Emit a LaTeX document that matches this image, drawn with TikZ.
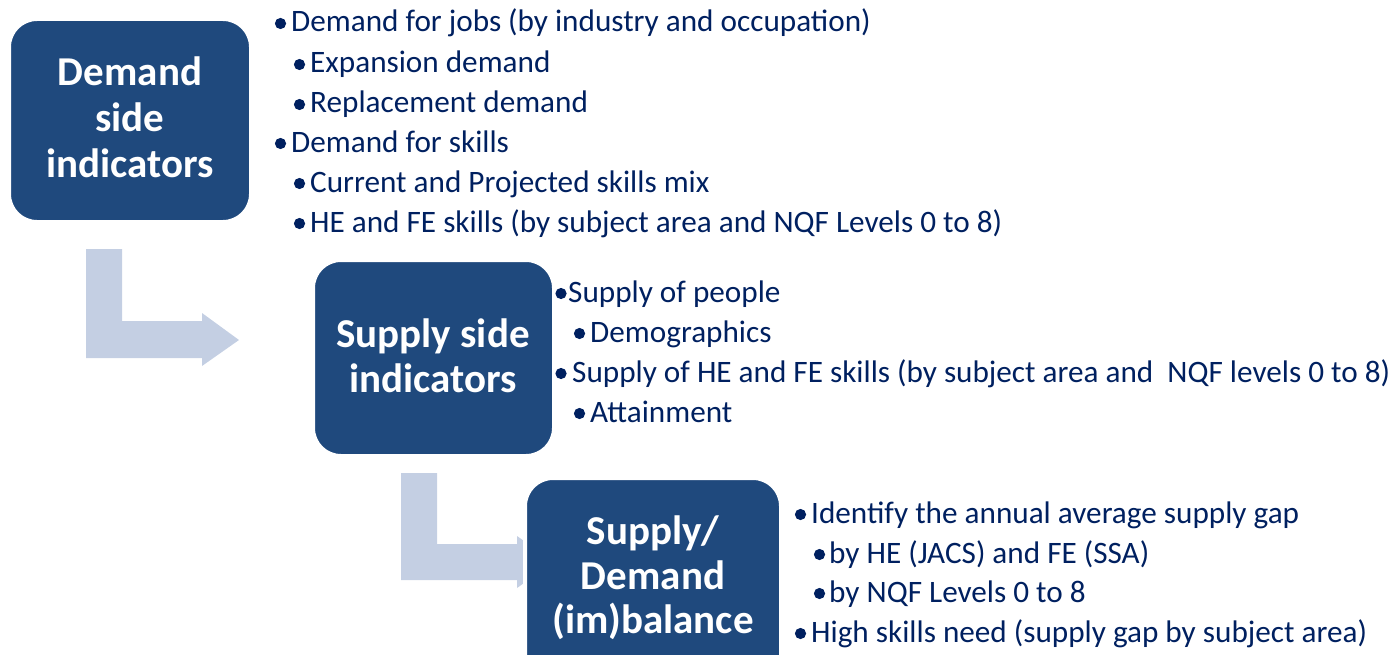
\documentclass[tikz,border=0pt]{standalone}
\usepackage{fontspec}
\setmainfont{Carlito}
\definecolor{boxblue}{RGB}{31,73,125}
\definecolor{arrowblue}{RGB}{196,207,227}
\definecolor{navy}{RGB}{0,32,96}
\begin{document}
\begin{tikzpicture}[x=1bp,y=-1bp,
 box/.style={fill=boxblue,draw=white,line width=4bp,rounded corners=28bp,outer sep=0pt,inner sep=0pt,anchor=north west},
 boxlabel/.style={text=white,font=\fontsize{41bp}{46bp}\selectfont\bfseries,align=center,inner sep=0pt},
 item/.style={text=navy,font=\fontsize{31.2bp}{38bp}\selectfont,anchor=base west,inner sep=0pt},
 barrow/.style={fill=arrowblue},
 dot/.style={fill=navy}]
\useasboundingbox (0,0) rectangle (1392,655);
\clip (0,0) rectangle (1392,655);
% block arrows
\fill[barrow] (86,249) -- (122,249) -- (122,321) -- (202,321) -- (202,313) -- (239,340) -- (202,366) -- (202,358) -- (86,358) -- cycle;
\fill[barrow] (401,473) -- (437,473) -- (437,544) -- (517,544) -- (517,536) -- (554,562) -- (517,588) -- (517,580) -- (401,580) -- cycle;
% boxes
\node[box,minimum width=242bp,minimum height=203bp] (demand) at (9,19) {};
\node[box,minimum width=241bp,minimum height=196bp] (supply) at (313,260) {};
\node[box,minimum width=256bp,minimum height=242bp] (balance) at (525,478) {};
% box labels
\node[boxlabel] (demandlabel) at (130,117) {Demand\\side\\indicators};
\node[boxlabel,font=\fontsize{41bp}{45bp}\selectfont\bfseries] (supplylabel) at (433,356) {Supply side\\indicators};
\node[boxlabel,font=\fontsize{41bp}{44.5bp}\selectfont\bfseries] (balancelabel) at (653,578) {Supply/\\Demand\\(im)balance};
% demand items
\node[item] (d1) at (291,32) {Demand for jobs (by industry and occupation)};
\node[item] (d2) at (310,73) {Expansion demand};
\node[item] (d3) at (310,113) {Replacement demand};
\node[item] (d4) at (291,152) {Demand for skills};
\node[item] (d5) at (310,192) {Current and Projected skills mix};
\node[item] (d6) at (310,232) {HE and FE skills (by subject area and NQF Levels 0 to 8)};
% supply items
\node[item] (s1) at (568,302) {Supply of people};
\node[item] (s2) at (590,342) {Demographics};
\node[item] (s3) at (572,382) {Supply of HE and FE skills (by subject area and \ NQF levels 0 to 8)};
\node[item] (s4) at (590,422) {Attainment};
% balance items
\node[item] (b1) at (811,523) {Identify the annual average supply gap};
\node[item] (b2) at (829,563) {by HE (JACS) and FE (SSA)};
\node[item] (b3) at (829,602) {by NQF Levels 0 to 8};
\node[item] (b4) at (811,642) {High skills need (supply gap by subject area)};
% bullets
\foreach \n/\dx in {d1/-10.5,d2/-10.5,d3/-10.5,d4/-10.5,d5/-10.5,d6/-10.5,s1/-7,s2/-10.5,s3/-11,s4/-10.5,b1/-10.5,b2/-9.5,b3/-9.5,b4/-10.5}
  \fill[dot] ([shift={(\dx,-8.5)}]\n.base west) circle (5.6bp);
\end{tikzpicture}
\end{document}
